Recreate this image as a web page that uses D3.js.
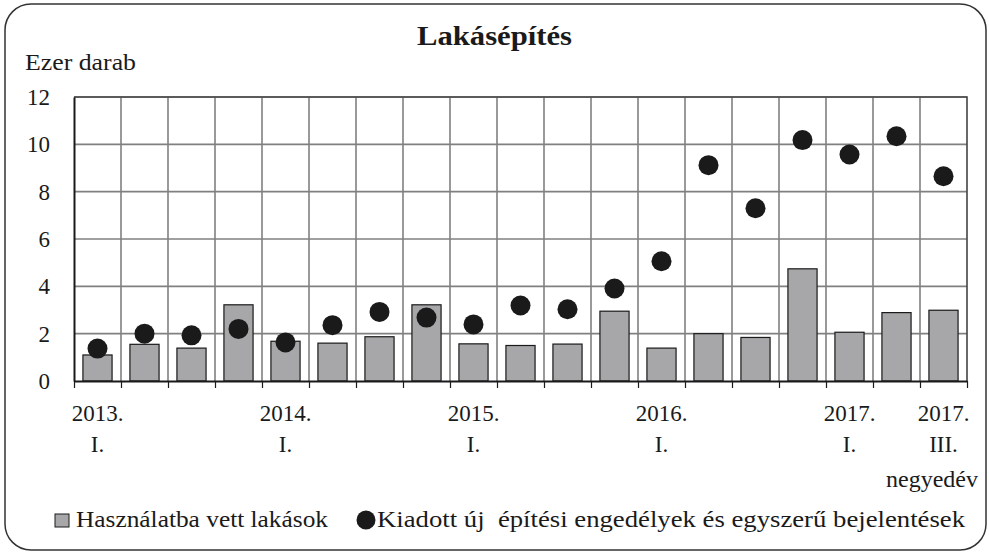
<!DOCTYPE html>
<html lang="hu">
<head>
<meta charset="UTF-8">
<title>Lakásépítés</title>
<script src="https://d3js.org/d3.v7.min.js"></script>
<style>
    body { margin: 0; background: #fff; }
    svg text { font-family: "Liberation Serif", "Times New Roman", serif; fill: #1a1a1a; }
    .axis text { font-size: 23px; }
    .axis path, .axis line { stroke: #1a1a1a; }
</style>
</head>
<body>
<script>
// negyedévek 2013 I. - 2017 III.
var quarters = ["2013 I", "2013 II", "2013 III", "2013 IV",
                "2014 I", "2014 II", "2014 III", "2014 IV",
                "2015 I", "2015 II", "2015 III", "2015 IV",
                "2016 I", "2016 II", "2016 III", "2016 IV",
                "2017 I", "2017 II", "2017 III"];
// Használatba vett lakások (ezer darab)
var completed = [1.1, 1.55, 1.39, 3.22, 1.68, 1.6, 1.87, 3.22, 1.57, 1.5,
                 1.56, 2.95, 1.39, 2.0, 1.84, 4.74, 2.06, 2.89, 2.99];
// Kiadott új építési engedélyek és egyszerű bejelentések (ezer darab)
var permits = [1.37, 2.0, 1.93, 2.2, 1.63, 2.36, 2.92, 2.68, 2.39, 3.19,
               3.03, 3.91, 5.06, 9.12, 7.3, 10.18, 9.57, 10.34, 8.65];
// tengelyfeliratok
var xLabels = {"2013 I": ["2013.", "I."], "2014 I": ["2014.", "I."], "2015 I": ["2015.", "I."],
               "2016 I": ["2016.", "I."], "2017 I": ["2017.", "I."], "2017 III": ["2017.", "III."]};
var yTicks = [0, 2, 4, 6, 8, 10, 12];

var W = 989, H = 555;
var pLeft = 74, pRight = 967, pTop = 97, pBottom = 381;
var FONT = "'Liberation Serif', 'Times New Roman', serif";

var svg = d3.select("body").append("svg")
    .attr("width", W).attr("height", H)
    .attr("font-family", FONT);

// keret
svg.append("rect")
    .attr("x", 5).attr("y", 4)
    .attr("width", 981).attr("height", 546)
    .attr("rx", 26).attr("ry", 26)
    .attr("fill", "#fff").attr("stroke", "#333").attr("stroke-width", 1.5);

svg.append("text")
    .attr("x", 417).attr("y", 45)
    .attr("textLength", 155).attr("lengthAdjust", "spacingAndGlyphs")
    .style("font-size", "27px").style("font-weight", "bold")
    .text("Lakásépítés");

svg.append("text")
    .attr("x", 25).attr("y", 70)
    .attr("textLength", 111).attr("lengthAdjust", "spacingAndGlyphs")
    .style("font-size", "23px")
    .text("Ezer darab");

var x = d3.scaleBand().domain(quarters).range([pLeft, pRight]).padding(0);
var xEdge = d3.scaleLinear().domain([0, quarters.length]).range([pLeft, pRight]);
var y = d3.scaleLinear().domain([0, 12]).range([pBottom, pTop]);

// rácsvonalak
svg.append("g").selectAll("line")
    .data(yTicks.slice(1))
    .enter().append("line")
    .attr("x1", pLeft).attr("x2", pRight)
    .attr("y1", function(d){ return y(d); })
    .attr("y2", function(d){ return y(d); })
    .attr("stroke", "#808080").attr("stroke-width", 1.6);

svg.append("g").selectAll("line")
    .data(d3.range(1, quarters.length))
    .enter().append("line")
    .attr("x1", function(d){ return xEdge(d); })
    .attr("x2", function(d){ return xEdge(d); })
    .attr("y1", pTop).attr("y2", pBottom)
    .attr("stroke", "#808080").attr("stroke-width", 1.6);

// felső és jobb oldali keret
svg.append("path")
    .attr("d", "M" + pLeft + "," + pTop + "H" + pRight + "V" + pBottom)
    .attr("fill", "none").attr("stroke", "#444").attr("stroke-width", 1.6);

// oszlopok
var bw = x.bandwidth() * 0.62;
svg.append("g").selectAll("rect")
    .data(completed)
    .enter().append("rect")
    .attr("x", function(d, i){ return x(quarters[i]) + (x.bandwidth() - bw) / 2; })
    .attr("y", function(d){ return y(d); })
    .attr("width", bw)
    .attr("height", function(d){ return y(0) - y(d); })
    .attr("fill", "#a7a7a9")
    .attr("stroke", "#1a1a1a").attr("stroke-width", 1.2);

// pontok
svg.append("g").selectAll("circle")
    .data(permits)
    .enter().append("circle")
    .attr("cx", function(d, i){ return x(quarters[i]) + x.bandwidth() / 2; })
    .attr("cy", function(d){ return y(d); })
    .attr("r", 10)
    .attr("fill", "#1a1a1a");

// tengelyek
svg.append("g")
    .attr("class", "axis")
    .attr("transform", "translate(" + pLeft + ",0)")
    .call(d3.axisLeft(y).tickValues(yTicks).tickSize(0).tickPadding(24).tickFormat(d3.format("d")))
    .call(function(g){
        g.attr("font-family", FONT).attr("font-size", 23);
        g.select(".domain").attr("stroke-width", 2);
    });

svg.append("g")
    .attr("class", "axis")
    .attr("transform", "translate(0," + pBottom + ")")
    .call(d3.axisBottom(xEdge).tickValues(d3.range(0, quarters.length + 1)).tickSize(7).tickSizeOuter(0).tickFormat(""))
    .call(function(g){
        g.select(".domain").attr("stroke-width", 2);
        g.selectAll(".tick line").attr("stroke-width", 1.2);
    });

var lab = svg.append("g").attr("class", "axis").selectAll("g")
    .data(quarters.filter(function(q){ return xLabels[q]; }))
    .enter().append("g")
    .attr("transform", function(q){ return "translate(" + (x(q) + x.bandwidth() / 2) + ",0)"; });
lab.append("text").attr("y", 421).attr("text-anchor", "middle")
    .text(function(q){ return xLabels[q][0]; });
lab.append("text").attr("y", 452).attr("text-anchor", "middle")
    .text(function(q){ return xLabels[q][1]; });

svg.append("text")
    .attr("x", 978).attr("y", 487)
    .attr("text-anchor", "end")
    .style("font-size", "24px")
    .text("negyedév");

// jelmagyarázat
var leg = svg.append("g").style("font-size", "24px");
leg.append("rect")
    .attr("x", 55).attr("y", 514).attr("width", 14).attr("height", 13)
    .attr("fill", "#a7a7a9").attr("stroke", "#1a1a1a").attr("stroke-width", 1);
leg.append("text").attr("x", 76).attr("y", 527)
    .attr("textLength", 252).attr("lengthAdjust", "spacingAndGlyphs")
    .text("Használatba vett lakások");
leg.append("circle").attr("cx", 366).attr("cy", 520).attr("r", 9.5).attr("fill", "#1a1a1a");
leg.append("text").attr("x", 377).attr("y", 527)
    .attr("textLength", 588).attr("lengthAdjust", "spacingAndGlyphs")
    .style("white-space", "pre")
    .text("Kiadott új  építési engedélyek és egyszerű bejelentések");
</script>
</body>
</html>
